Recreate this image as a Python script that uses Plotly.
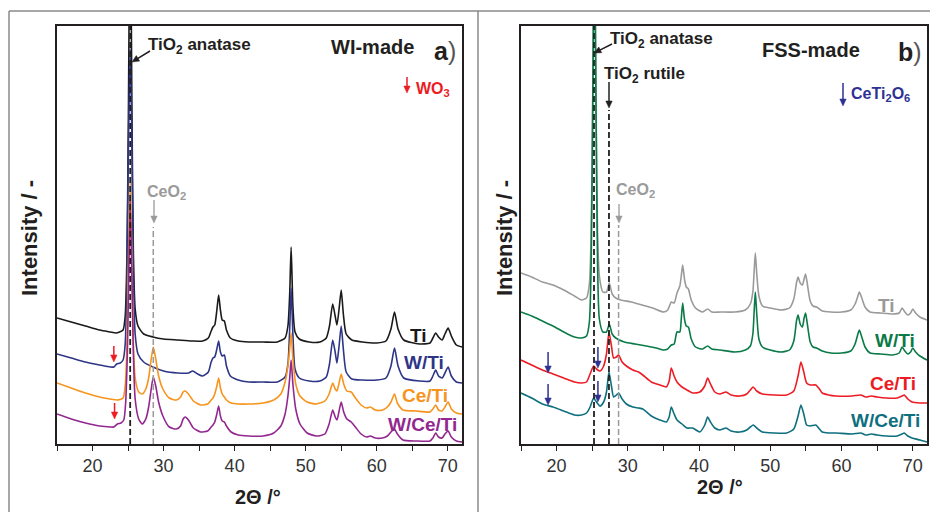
import math
import plotly.graph_objects as go

W, H = 930, 512
FONT = "Liberation Sans, Arial, Helvetica, sans-serif"

# ---------------- (a) WI-made: 2θ / intensity (a.u.) ----------------
wi_ti = [(15,126),(17,122),(19,118),(21,114),(22.5,112),(23.3,111),(23.8,112),(24.3,114),(24.6,128),(24.85,190),
         (25.05,330),(25.3,560),(25.55,330),(25.75,190),(26.0,135),(26.4,118),(27.2,110),(28.5,107),(30,105),(32,104),
         (34,103),(35.5,103),(36.3,106),(36.7,113),(36.95,117),(37.2,119),(37.5,134),(37.75,149),(38.0,134),(38.25,124),
         (38.55,123),(38.85,114),(39.4,106),(40.5,103),(42,102),(44,102),(46,102),(47.1,106),(47.5,118),(47.75,150),
         (47.95,197),(48.2,138),(48.5,112),(49.1,105),(50.5,102),(52,102),(52.9,106),(53.35,118),(53.8,140),(54.15,128),
         (54.4,119),(54.7,135),(55.0,154),(55.3,130),(55.7,110),(56.5,104),(58,102),(60,101),(61.3,103),(62.0,115),
         (62.5,132),(63.0,115),(63.8,104),(66,100),(67.5,101),(67.9,106),(68.3,111),(68.7,107),(69.2,104),(69.6,110),
         (70.05,116),(70.5,108),(71.2,99),(72,97)]
wi_wti = [(15,90),(17,86),(19,82),(21,79),(22.5,77),(23.0,77),(23.4,80),(23.9,81),(24.3,84),(24.6,100),(24.85,170),
          (25.05,300),(25.3,395),(25.55,300),(25.75,170),(26.0,110),(26.4,90),(27.2,82),(28.5,77),(30,73),(32,71),
          (33.5,71),(34.1,73),(34.8,70),(35.5,68),(36.3,72),(36.7,82),(36.95,86),(37.2,87),(37.5,95),(37.75,103),
          (38.0,92),(38.25,88),(38.55,89),(38.85,78),(39.4,68),(40.5,64),(42,62),(44,62),(46,62),(47.1,67),(47.5,80),
          (47.75,115),(47.95,156),(48.2,110),(48.5,75),(49.1,66),(50.5,63),(52,63),(52.9,67),(53.35,80),(53.8,104),
          (54.15,92),(54.4,81),(54.7,98),(55.0,118),(55.3,95),(55.7,72),(56.5,65),(58,64),(60,64),(61.3,66),(62.0,78),
          (62.5,96),(63.0,78),(63.8,66),(66,63),(67.5,63),(67.9,68),(68.3,74),(68.7,68),(69.2,66),(69.6,71),(70.05,77),
          (70.5,68),(71.2,62),(72,61)]
wi_ceti = [(15,61),(17,56),(19,51),(21,47),(22.5,45),(23.5,44),(24.3,46),(24.6,58),(24.85,100),(25.05,180),(25.3,262),
           (25.55,180),(25.75,100),(26.0,66),(26.5,52),(27.0,50),(27.5,55),(27.9,66),(28.2,82),(28.55,97),(28.9,85),
           (29.3,68),(29.9,55),(30.8,46),(31.8,44),(32.4,47),(32.75,52),(33.05,53),(33.5,50),(34.2,43),(35.2,39),
           (36.2,40),(36.7,44),(36.95,46),(37.2,50),(37.5,58),(37.75,66),(38.0,56),(38.25,50),(38.55,47),(38.85,44),
           (39.5,41),(40.5,40),(42,40),(44,41),(45.5,44),(46.5,50),(47.1,62),(47.5,78),(47.75,95),(47.95,111),(48.2,85),
           (48.6,60),(49.2,48),(50.2,42),(51.5,40),(52.7,43),(53.3,50),(53.8,61),(54.15,55),(54.4,53),(54.7,61),
           (55.0,70),(55.35,60),(55.8,53),(56.4,52),(57.0,46),(57.8,39),(58.6,36),(59.1,37),(59.8,34),(60.8,34),
           (61.5,37),(62.0,42),(62.5,50),(62.9,41),(63.7,34),(65.5,33),(67.5,32),(67.9,35),(68.3,39),(68.7,34),
           (69.2,33),(69.6,37),(70.05,42),(70.5,35),(71.2,31),(72,30)]
wi_wceti = [(15,30),(17,25),(19,21),(21,18),(22.5,17),(23.0,17),(23.5,20),(24.0,21),(24.4,24),(24.65,40),(24.9,90),
            (25.1,170),(25.3,244),(25.55,165),(25.75,90),(26.0,45),(26.5,25),(27.0,20),(27.5,25),(27.9,37),(28.2,52),
            (28.55,67),(28.9,58),(29.3,42),(29.9,28),(30.8,17),(31.8,15),(32.4,18),(32.75,25),(33.05,27),(33.5,24),
            (34.2,16),(35.2,12),(36.2,13),(36.7,17),(36.95,19),(37.2,22),(37.5,30),(37.75,38),(38.0,28),(38.25,23),
            (38.55,22),(38.85,18),(39.5,12),(40.5,9),(42,8),(44,8),(45.5,11),(46.5,18),(47.1,30),(47.5,48),(47.75,66),
            (47.95,84),(48.2,60),(48.6,35),(49.2,20),(50.2,11),(51.5,8),(52.7,10),(53.3,20),(53.8,34),(54.15,27),
            (54.4,24),(54.7,33),(55.0,42),(55.35,32),(55.8,25),(56.4,22),(57.0,17),(57.8,10),(58.6,7),(59.1,8),
            (59.8,6),(60.8,6),(61.5,8),(62.0,12),(62.5,15),(62.9,10),(63.7,4),(65.5,3),(67.5,3),(67.9,6),(68.3,11),
            (68.7,7),(69.2,6),(69.6,10),(70.05,13),(70.5,7),(71.2,3),(72,2)]

# ---------------- (b) FSS-made ----------------
fss_ti = [(15,171),(16.5,167),(18,162),(19.5,159),(21,154),(22.5,148),(23.5,144),(24.2,146),(24.6,160),(24.85,210),
          (25.05,330),(25.3,520),(25.55,330),(25.75,210),(26.0,168),(26.5,152),(27.0,152),(27.4,161),(27.8,150),
          (28.3,146),(29,144),(30.5,142),(32,139),(33.5,136),(35,132),(35.6,134),(36.1,142),(36.5,141),(36.9,151),
          (37.3,158),(37.5,168),(37.7,179),(37.95,165),(38.2,157),(38.5,155),(38.9,144),(39.5,136),(40.5,132),
          (41.2,135),(41.8,132),(43,132),(45,132),(46.5,134),(47.2,140),(47.55,152),(47.75,175),(47.9,191),(48.1,170),
          (48.4,148),(48.9,138),(50,136),(51.5,134),(52.7,136),(53.3,145),(53.7,162),(53.9,167),(54.2,161),(54.5,159),
          (54.75,165),(54.95,170),(55.2,160),(55.6,143),(56.0,138),(56.5,137),(57.3,133),(58.5,132),(60,132),
          (61.3,134),(61.9,140),(62.3,148),(62.5,152),(62.8,147),(63.3,137),(64,132),(65.5,131),(67.2,130),(68.1,131),
          (68.5,136),(68.9,132),(69.3,129),(69.7,131),(70.0,135),(70.4,131),(71,127),(72,124)]
fss_wti = [(15,132),(16.5,128),(18,123),(19.5,118),(21,112),(22.5,107),(23.5,106),(24.2,108),(24.6,122),(24.85,180),
           (25.05,320),(25.3,520),(25.55,320),(25.75,180),(26.0,125),(26.5,112),(27.0,112),(27.4,120),(27.8,110),
           (28.3,106),(29.5,102),(31,100),(32.6,98),(34,96),(35,94),(35.6,95),(36.1,99),(36.5,100),(36.9,112),
           (37.3,112),(37.5,125),(37.7,141),(37.95,125),(38.2,118),(38.5,117),(38.9,105),(39.5,97),(40.5,95),(41.2,98),
           (41.8,95),(43,94),(45,92),(46.5,94),(47.2,98),(47.55,110),(47.75,135),(47.9,152),(48.1,130),(48.4,105),
           (48.9,97),(50,94),(51.5,92),(52.7,94),(53.3,103),(53.7,124),(53.9,129),(54.2,120),(54.5,117),(54.75,126),
           (54.95,131),(55.2,120),(55.6,102),(56.0,97),(56.5,96),(57.3,93),(58.5,91),(60,91),(61.3,93),(61.9,100),
           (62.3,110),(62.5,114),(62.8,108),(63.3,97),(64,91),(65.5,90),(67.2,89),(68.1,91),(68.5,97),(68.9,93),
           (69.3,90),(69.7,92),(70.0,96),(70.4,92),(71,88),(72,84)]
fss_ceti = [(15,84),(16.5,79),(18,74),(19.5,70),(21,66),(22.5,62),(23.5,61),(24.2,62),(24.7,70),(25.2,78),(25.6,75),
            (26.1,73),(26.6,78),(27.0,90),(27.35,112),(27.7,98),(28.0,86),(28.4,87),(28.7,89),(29.2,82),(29.8,78),
            (30.7,74),(31.5,72),(32.1,69),(33.3,62),(34.5,59),(35.4,57),(35.8,63),(36.1,76),(36.5,68),(36.9,62),
            (37.6,57),(38.3,54),(39.1,51),(40.1,52),(40.8,58),(41.2,66),(41.6,60),(42.2,52),(42.9,50),(43.8,52),
            (44.5,49),(45.7,48),(46.7,50),(47.2,54),(47.6,57),(48.1,53),(48.9,50),(50.5,49),(52.3,49),(53.3,53),
            (53.9,68),(54.3,82),(54.7,72),(55.1,61),(55.6,59),(56.4,59),(56.9,55),(57.3,51),(58.2,49),(59.2,48),
            (61.5,48),(62.7,49),(63.4,47),(64.2,48),(65,47),(66.3,46),(67.8,46),(68.5,48),(68.8,49),(69.3,45),
            (69.9,42),(71,41),(72,41)]
fss_wceti = [(15,51),(16.5,46),(18,40),(19.5,37),(21,33),(22.5,29),(23.5,29),(24.2,31),(24.7,37),(25.2,46),(25.6,42),
             (26.1,38),(26.6,42),(27.0,52),(27.35,72),(27.7,58),(28.0,47),(28.4,49),(28.7,51),(29.2,45),(29.8,40),
             (30.7,37),(31.5,36),(32.1,35),(33.3,28),(34.5,24),(35.4,22),(35.8,27),(36.1,37),(36.5,30),(36.9,24),
             (37.6,20),(38.3,16),(39.1,16),(40.1,12),(40.8,19),(41.2,27),(41.6,22),(42.2,16),(42.9,14),(43.8,16),
             (44.5,13),(45.7,12),(46.7,14),(47.2,17),(47.6,19),(48.1,16),(48.9,12),(50.5,11),(52.3,11),(53.3,15),
             (53.9,28),(54.3,39),(54.7,30),(55.1,19),(55.6,18),(56.4,19),(56.9,15),(57.3,12),(58.2,11),(59.2,11),
             (61.5,10),(62.7,11),(63.4,9),(64.2,10),(65,9),(66.3,8),(67.8,8),(68.5,10),(68.8,11),(69.3,8),(69.9,6),
             (71,4),(72,2)]

labels = ["Ti", "W/Ti", "Ce/Ti", "W/Ce/Ti"]
colors_a = ["#1a1a1a", "#2e3586", "#f7941d", "#92278f"]
colors_b = ["#9a9a9a", "#0a7a48", "#ed1c24", "#0e6f7e"]

# reflection positions (2θ) of the reference phases
anatase_a, ceo2_a = 25.3, 28.55
anatase_b, rutile_b, ceo2_b = 25.25, 27.35, 28.7
# marked minor-phase reflections (2θ, intensity at arrow tip)
wo3_marks = [(23.0, 82), (23.1, 25)]
ceti2o6_marks = [(18.8, 71), (18.8, 39), (25.8, 76), (25.8, 42)]

x_range = [15, 72]
x_major = [20, 30, 40, 50, 60, 70]
y_max = 418

# plot-area pixel boxes (left, right, top, bottom) of the two panels
box_a = (57, 462, 26, 444)
box_b = (521, 927, 26, 444)

fig = go.Figure()
for data, name, col in zip([wi_ti, wi_wti, wi_ceti, wi_wceti], labels, colors_a):
    xs, ys = zip(*data)
    fig.add_trace(go.Scatter(x=xs, y=ys, mode="lines", name=name, xaxis="x", yaxis="y",
                             line=dict(color=col, width=1.6, shape="spline", smoothing=0.6)))
for data, name, col in zip([fss_ti, fss_wti, fss_ceti, fss_wceti], labels, colors_b):
    xs, ys = zip(*data)
    fig.add_trace(go.Scatter(x=xs, y=ys, mode="lines", name=name, xaxis="x2", yaxis="y2",
                             line=dict(color=col, width=1.6, shape="spline", smoothing=0.6)))


def P(xp, yp):
    return xp / W, 1 - yp / H


def data_to_px(box, x, y):
    l, r, t, b = box
    return l + (x - x_range[0]) / (x_range[1] - x_range[0]) * (r - l), b - y / y_max * (b - t)


axis_common = dict(range=x_range, showline=True, mirror=True, linecolor="#231f20", linewidth=1.5,
                   tickvals=x_major, ticks="outside", ticklen=5, tickwidth=1.2, tickcolor="#231f20",
                   minor=dict(tick0=15, dtick=5, ticks="outside", ticklen=5, tickwidth=1.2, tickcolor="#231f20"),
                   tickfont=dict(family=FONT, size=18, color="#333333"),
                   showgrid=False, zeroline=False)
yaxis_common = dict(range=[0, y_max], showline=True, mirror=True, linecolor="#231f20", linewidth=1.5,
                    showticklabels=False, ticks="", showgrid=False, zeroline=False)

fig.update_layout(
    width=W, height=H, margin=dict(l=0, r=0, t=0, b=0),
    paper_bgcolor="white", plot_bgcolor="white", showlegend=False,
    xaxis=dict(domain=[box_a[0] / W, box_a[1] / W], anchor="y", **axis_common),
    yaxis=dict(domain=[1 - box_a[3] / H, 1 - box_a[2] / H], anchor="x", **yaxis_common),
    xaxis2=dict(domain=[box_b[0] / W, box_b[1] / W], anchor="y2", **axis_common),
    yaxis2=dict(domain=[1 - box_b[3] / H, 1 - box_b[2] / H], anchor="x2", **yaxis_common),
)

shapes = []
# outer panel frame
fx, fy = P(9, 11)
mx, _ = P(478, 0)
for x0, y0, x1, y1 in [(fx, fy, 1, fy), (fx, 0, fx, fy), (mx, 0, mx, fy)]:
    shapes.append(dict(type="line", xref="paper", yref="paper", x0=x0, y0=y0, x1=x1, y1=y1,
                       line=dict(color="#8a8a8a", width=1.5)))


def vline(xr, yr, x, top, color, width=1.8):
    shapes.append(dict(type="line", xref=xr, yref=yr, x0=x, x1=x, y0=0, y1=top, layer="above",
                       line=dict(color=color, width=width, dash="6px,3px")))


vline("x", "y", anatase_a, y_max, "#231f20")
vline("x", "y", ceo2_a, 217, "#9a9a9a", 1.5)
vline("x2", "y2", anatase_b, y_max, "#231f20")
vline("x2", "y2", rutile_b, 334, "#231f20")
vline("x2", "y2", ceo2_b, 219, "#9a9a9a", 1.5)


def arrow(hx, hy, tx, ty, color, width=1.5, head=7.0, half=3.2):
    """Arrow drawn as a shaft plus a filled head, all in image-pixel coordinates."""
    dx, dy = hx - tx, hy - ty
    n = math.hypot(dx, dy)
    ux, uy = dx / n, dy / n
    bx, by = hx - ux * head, hy - uy * head
    px_, py_ = -uy * half, ux * half
    x0, y0 = P(tx, ty)
    x1, y1 = P(bx + ux * 1.0, by + uy * 1.0)
    shapes.append(dict(type="line", xref="paper", yref="paper", x0=x0, y0=y0, x1=x1, y1=y1,
                       line=dict(color=color, width=width)))
    pts = [P(hx, hy), P(bx + px_, by + py_), P(bx - px_, by - py_)]
    path = "M {:.5f} {:.5f} L {:.5f} {:.5f} L {:.5f} {:.5f} Z".format(*pts[0], *pts[1], *pts[2])
    shapes.append(dict(type="path", xref="paper", yref="paper", path=path,
                       fillcolor=color, line=dict(color=color, width=0.5)))


ann = []


def text(t, cx, cy, size, color="#231f20", anchor="center", angle=0):
    x, y = P(cx, cy)
    ann.append(dict(text=t, x=x, y=y, xref="paper", yref="paper", showarrow=False, xanchor=anchor,
                    yanchor="middle", textangle=angle, font=dict(family=FONT, size=size, color=color)))


# axis titles
text("<b>Intensity / -</b>", 29, 238, 22, angle=-90)
text("<b>Intensity / -</b>", 504, 238, 22, angle=-90)
text("<b>2Θ /°</b>", 258, 497, 20)
text("<b>2Θ /°</b>", 720, 487, 20)

# panel (a)
text("<b>TiO<sub>2</sub> anatase</b>", 146, 46, 17, anchor="left")
arrow(132, 62, 150, 51, "#231f20")
text("<b>WI-made</b>", 372, 47, 20)
text("<b>a</b><span style='color:#555'>)</span>", 445, 51, 25)
text("<b>WO<sub>3</sub></b>", 414, 89, 16, color="#ed1c24", anchor="left")
arrow(407, 93, 407, 77, "#ed1c24")
text("<b>CeO<sub>2</sub></b>", 166, 192, 16, color="#9a9a9a")
arrow(154, 223, 154, 200, "#9a9a9a", width=1.3)
for x, y in wo3_marks:
    hx, hy = data_to_px(box_a, x, y)
    arrow(hx, hy, hx, hy - 16, "#ed1c24")
for t, (cx, cy), col in zip(labels, [(418, 335), (424, 362), (425, 395), (422, 424)], colors_a):
    text("<b>" + t + "</b>", cx, cy, 19, color=col)

# panel (b)
text("<b>TiO<sub>2</sub> anatase</b>", 608, 40, 17, anchor="left")
arrow(594, 53, 612, 44, "#231f20")
text("<b>TiO<sub>2</sub> rutile</b>", 602, 75, 17, anchor="left")
arrow(609, 108, 609, 82, "#231f20")
text("<b>FSS-made</b>", 811, 50, 20)
text("<b>b</b><span style='color:#555'>)</span>", 910, 52, 25)
text("<b>CeTi<sub>2</sub>O<sub>6</sub></b>", 849, 94, 16, color="#2e3192", anchor="left")
arrow(843, 106, 843, 83, "#2e3192")
text("<b>CeO<sub>2</sub></b>", 635, 190, 16, color="#9a9a9a")
arrow(619, 223, 619, 204, "#9a9a9a", width=1.3)
for x, y in ceti2o6_marks:
    hx, hy = data_to_px(box_b, x, y)
    arrow(hx, hy, hx, hy - 21, "#2e3192")
for t, (cx, cy), col in zip(labels, [(886, 305), (895, 340), (893, 383), (885, 420)], colors_b):
    text("<b>" + t + "</b>", cx, cy, 19, color=col)

fig.update_layout(shapes=shapes, annotations=ann)
fig.write_html("out.html")
